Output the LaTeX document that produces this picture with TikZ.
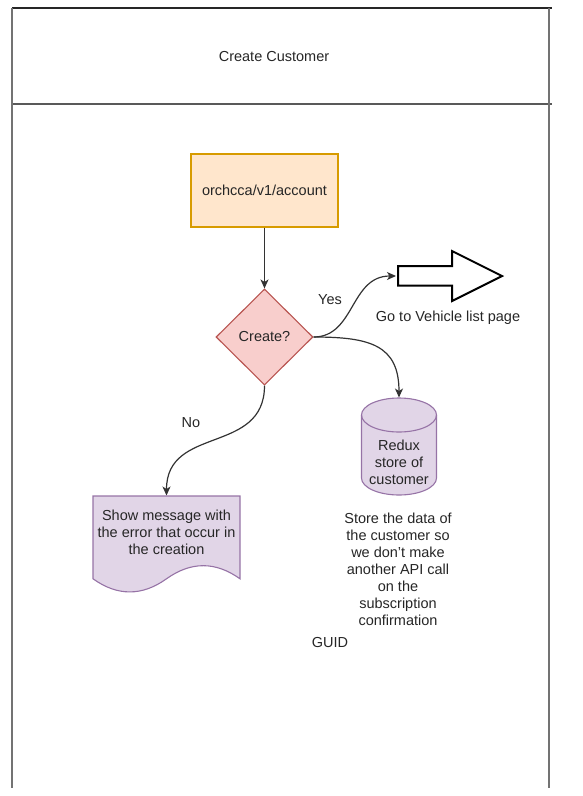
\documentclass[tikz,border=0pt]{standalone}
\usepackage{fontspec}
\setmainfont{Liberation Sans}
\usetikzlibrary{shapes.geometric,arrows.meta}
\definecolor{orfill}{HTML}{FFE6CC}
\definecolor{orline}{HTML}{D79B00}
\definecolor{rdfill}{HTML}{F8CECC}
\definecolor{rdline}{HTML}{B85450}
\definecolor{pufill}{HTML}{E1D5E7}
\definecolor{puline}{HTML}{9673A6}
\begin{document}
\begin{tikzpicture}[x=1pt,y=-1pt,
  txt/.style={font=\fontsize{14.5}{17}\selectfont, text=black!85, align=center, inner sep=0pt},
  conn/.style={draw=black!80, line width=1.2pt, -{Stealth[length=9pt,width=8pt,inset=2.5pt]}},
  shapeline/.style={line width=1.1pt}]
\useasboundingbox (0,0) rectangle (582,796);
% frame
\draw[line width=1.2pt, black!85] (12,8) -- (552,8);
\draw[line width=1.2pt, black!65] (12,104) -- (552,104);
\draw[line width=1.5pt, black!55] (12,8) -- (12,788);
\draw[line width=1.5pt, black!55] (549,8) -- (549,788);
\node[txt] (title) at (274,57) {Create Customer};
% api box
\node[txt, shapeline, draw=orline, fill=orfill, minimum width=147pt, minimum height=73pt] (api) at (264.5,190.5) {orchcca/v1/account};
% decision
\node[txt, shapeline, diamond, draw=rdline, fill=rdfill, minimum width=97pt, minimum height=96pt] (dec) at (264.5,337) {Create?};
% block arrow
\draw[line width=2pt, black, line join=miter] (398,266) -- (452,266) -- (452,251) -- (502,276) -- (452,301) -- (452,285.5) -- (398,285.5) -- cycle;
\coordinate (goin) at (396,276);
\node[txt] (golabel) at (448,318) {Go to Vehicle list page};
% cylinder
\path[shapeline, fill=pufill, draw=puline] (361.5,415) -- (361.5,478)
  .. controls (361.5,487.4) and (378.3,495) .. (399,495)
  .. controls (419.7,495) and (436.5,487.4) .. (436.5,478) -- (436.5,415)
  .. controls (436.5,405.6) and (419.7,398) .. (399,398)
  .. controls (378.3,398) and (361.5,405.6) .. (361.5,415) -- cycle;
\draw[shapeline, draw=puline] (361.5,415) .. controls (361.5,424.4) and (378.3,432) .. (399,432)
  .. controls (419.7,432) and (436.5,424.4) .. (436.5,415);
\coordinate (dbtop) at (399,397.5);
\node[txt] (db) at (399,462) {Redux\\store of\\customer};
% document
\path[shapeline, fill=pufill, draw=puline] (93,496) -- (240,496) -- (240,578.8)
  .. controls (215.5,561.3) and (191,561.3) .. (166.5,578.8)
  .. controls (142,596.3) and (117.5,596.3) .. (93,578.8) -- cycle;
\coordinate (doctop) at (166.5,495.5);
\node[txt] (doc) at (166.5,532) {Show message with\\the error that occur in\\the creation};
% notes
\node[txt] (note) at (398,569) {Store the data of\\the customer so\\we don{\char"0027}t make\\another API call\\on the\\subscription\\confirmation};
\node[txt] (guid) at (330,642) {GUID};
% connectors
\draw[conn] (api.south) -- (dec.north);
\draw[conn] (dec.east) .. controls (355,337) and (350,276) .. (goin);
\draw[conn] (dec.east) .. controls (370,337) and (399,345) .. (dbtop);
\draw[conn] (dec.south) .. controls (264.5,455) and (166.5,425) .. (doctop);
\node[txt] (yes) at (330,300) {Yes};
\node[txt] (no) at (191,423) {No};
\end{tikzpicture}
\end{document}
